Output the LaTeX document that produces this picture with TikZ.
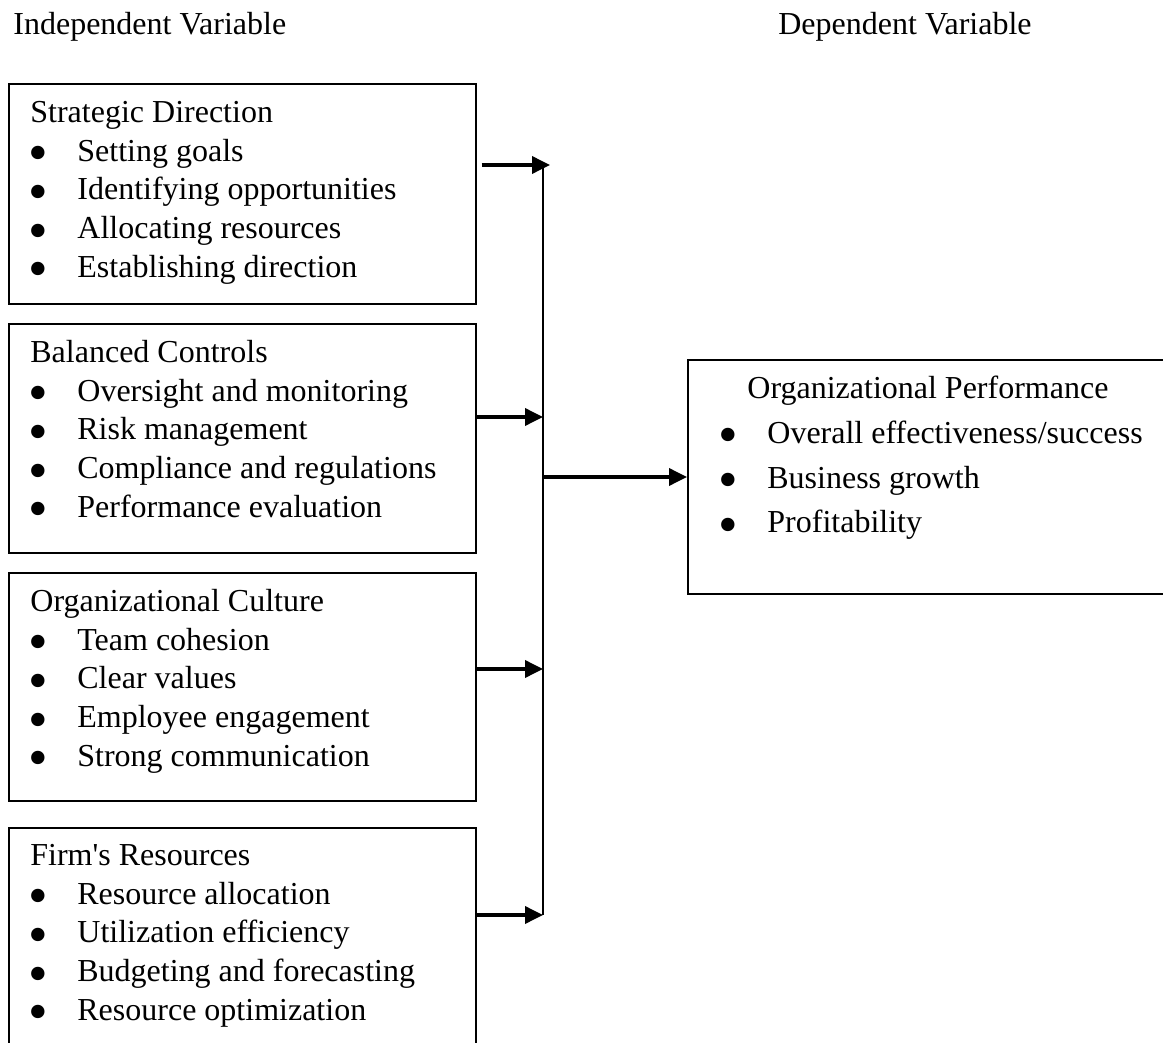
\documentclass[tikz,border=0pt]{standalone}
\usepackage{fontspec}
\setmainfont{Liberation Serif}[Ligatures=TeXOff]
\usepackage{graphicx}
\usetikzlibrary{arrows.meta}

\newcommand\bigdot{\smash{\raisebox{-5.3pt}{\scalebox{1.75}{\textbullet}}}}
\newcommand\bul[1]{\makebox[23.5pt][l]{\hspace*{-0.8pt}\bigdot}#1}

\tikzset{
  frame/.style={draw, line width=0.85pt, minimum width=233.5pt, anchor=north west, inner sep=0pt},
  list/.style={anchor=north west, inner sep=0pt, align=left, font=\fontsize{16}{19.35}\selectfont},
  head/.style={inner sep=0pt, font=\fontsize{16}{19.35}\selectfont},
  arr/.style={line width=1.8pt, -{Triangle[length=9pt,width=8.5pt]}},
  busline/.style={line width=1pt}
}

\begin{document}
\begin{tikzpicture}[x=0.5pt,y=-0.5pt]
\useasboundingbox (0,0) rectangle (1163,1043);
\clip (0,0) rectangle (1163,1043);

% headings
\node[head, anchor=base west] (indep) at (13,35) {Independent Variable};
\node[head, anchor=base east] (dep) at (1032,35) {Dependent Variable};

% independent variable boxes
\node[frame, minimum height=110pt] (strat) at (8,83) {};
\node[list] (strattxt) at ([shift={(22,12)}]strat.north west) {\strut Strategic Direction\\
  \bul{Setting goals}\\ \bul{Identifying opportunities}\\
  \bul{Allocating resources}\\ \bul{Establishing direction}};

\node[frame, minimum height=114.5pt] (bal) at (8,323) {};
\node[list] (baltxt) at ([shift={(22,12)}]bal.north west) {\strut Balanced Controls\\
  \bul{Oversight and monitoring}\\ \bul{Risk management}\\
  \bul{Compliance and regulations}\\ \bul{Performance evaluation}};

\node[frame, minimum height=114pt] (cult) at (8,572) {};
\node[list] (culttxt) at ([shift={(22,12)}]cult.north west) {\strut Organizational Culture\\
  \bul{Team cohesion}\\ \bul{Clear values}\\
  \bul{Employee engagement}\\ \bul{Strong communication}};

\node[frame, minimum height=116.5pt] (res) at (8,827) {};
\node[list] (restxt) at ([shift={(22,11)}]res.north west) {\strut Firm's Resources\\
  \bul{Resource allocation}\\ \bul{Utilization efficiency}\\
  \bul{Budgeting and forecasting}\\ \bul{Resource optimization}};

% dependent variable box
\node[frame, minimum width=244pt, minimum height=117pt] (perf) at (687,359) {};
\node[list, font=\fontsize{16}{22.35}\selectfont] (perftxt) at ([shift={(33,8)}]perf.north west)
  {\strut\hspace*{13.5pt}Organizational Performance\\
  \bul{Overall effectiveness/success}\\ \bul{Business growth}\\ \bul{Profitability}};

% bus and arrows
\coordinate (bustop) at (543,165);
\coordinate (b2) at (543,417);
\coordinate (busmid) at (543,477);
\coordinate (b3) at (543,669);
\coordinate (busbot) at (543,915);
\draw[busline] ([yshift=-1.5pt]bustop) -- (busbot);

\draw[arr] ([xshift=2.5pt]strat.east |- bustop) -- ([xshift=3.5pt]bustop);
\draw[arr] (bal.east |- b2) -- (b2);
\draw[arr] (cult.east |- b3) -- (b3);
\draw[arr] (res.east |- busbot) -- (busbot);
\draw[arr] (busmid) -- (perf.west |- busmid);
\end{tikzpicture}
\end{document}
